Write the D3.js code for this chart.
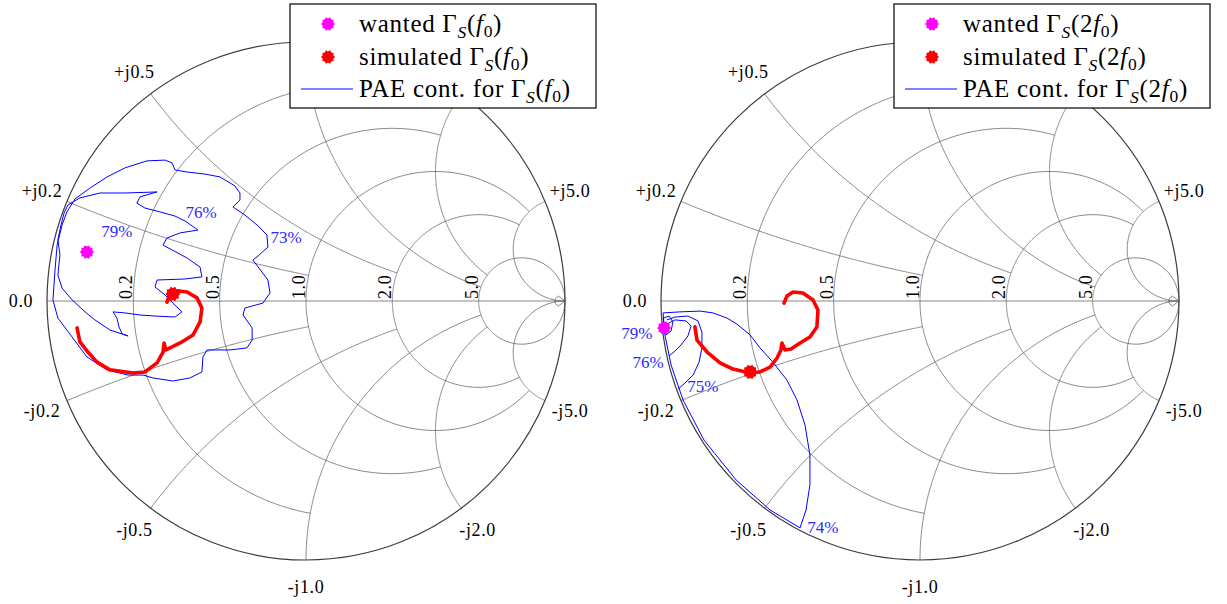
<!DOCTYPE html>
<html>
<head>
<meta charset="utf-8"/>
<title>Source reflection coefficient - Smith charts</title>
<script src="https://d3js.org/d3.v7.min.js"></script>
<style>
body{margin:0;background:#fff;}
svg text{font-family:"Liberation Serif","Times New Roman",serif;fill:#000;}
</style>
</head>
<body>
<div id="well"></div>
<script>
// grid ticks (normalised resistance r and reactance x)
var rTicks = [0.2, 0.5, 1, 2, 5];
var rTickLabels = ["0.2", "0.5", "1.0", "2.0", "5.0"];
var xTicks = [-5, -2, -1, -0.5, -0.2, 0.2, 0.5, 1, 2, 5];
// +j1.0 and +j2.0 sit under the legend box, so they are left empty
var xTickLabels = ["-j5.0", "-j2.0", "-j1.0", "-j0.5", "-j0.2", "+j0.2", "+j0.5", "", "", "+j5.0"];
// where each grid line stops (reactance for r circles, resistance for x arcs)
var rGridStop = [1, 2, 5, 5, Infinity];
var xGridStop = [1, 2, 5, 5, Infinity];

// ---- left chart: Gamma_S(f0), values as [Re, Im] of Gamma
var f0Wanted = [[-0.846, 0.189]];
var f0Simulated = [[-0.514, 0.027]];
var f0Trace = [[-0.884,-0.104],[-0.873,-0.158],[-0.842,-0.197],[-0.807,-0.236],[-0.757,-0.266],[-0.668,-0.278],
  [-0.622,-0.274],[-0.575,-0.239],[-0.552,-0.197],[-0.548,-0.162],[-0.541,-0.189],[-0.525,-0.181],[-0.486,-0.162],
  [-0.436,-0.131],[-0.409,-0.081],[-0.402,-0.027],[-0.421,0.012],[-0.459,0.035],[-0.498,0.039],[-0.525,0.027],[-0.537,-0.004]];
var f0Pae73 = [[-0.923,0.344],[-0.892,0.394],[-0.834,0.436],[-0.768,0.479],[-0.699,0.514],[-0.614,0.541],[-0.544,0.544],
  [-0.517,0.533],[-0.506,0.506],[-0.459,0.498],[-0.390,0.490],[-0.332,0.479],[-0.274,0.444],[-0.255,0.417],[-0.255,0.390],
  [-0.282,0.363],[-0.236,0.332],[-0.185,0.290],[-0.151,0.255],[-0.147,0.208],[-0.185,0.174],[-0.205,0.158],[-0.147,0.081],
  [-0.139,0.031],[-0.166,-0.008],[-0.236,-0.027],[-0.243,-0.054],[-0.208,-0.104],[-0.208,-0.151],[-0.228,-0.181],
  [-0.293,-0.189],[-0.382,-0.189],[-0.398,-0.216],[-0.402,-0.274],[-0.448,-0.297],[-0.514,-0.309],[-0.591,-0.297],
  [-0.629,-0.286],[-0.687,-0.286],[-0.768,-0.266],[-0.846,-0.216],[-0.903,-0.139],[-0.958,-0.066],[-0.977,0.004],
  [-0.969,0.120],[-0.961,0.216],[-0.942,0.293],[-0.923,0.344]];
var f0Pae76 = [[-0.919,0.371],[-0.873,0.398],[-0.795,0.417],[-0.699,0.417],[-0.575,0.421],[-0.641,0.402],[-0.653,0.378],
  [-0.622,0.359],[-0.564,0.344],[-0.506,0.328],[-0.467,0.309],[-0.417,0.274],[-0.486,0.263],[-0.537,0.243],[-0.552,0.216],
  [-0.517,0.197],[-0.459,0.166],[-0.409,0.131],[-0.402,0.093],[-0.467,0.085],[-0.575,0.081],[-0.583,0.054],[-0.544,0.023],
  [-0.514,-0.008],[-0.479,-0.042],[-0.506,-0.062],[-0.583,-0.058],[-0.641,-0.054],[-0.699,-0.046],[-0.745,-0.042],
  [-0.730,-0.066],[-0.722,-0.100],[-0.710,-0.127],[-0.687,-0.135],[-0.757,-0.112],[-0.815,-0.073],[-0.853,-0.042],
  [-0.903,0.004],[-0.942,0.050],[-0.958,0.100],[-0.950,0.178],[-0.958,0.236],[-0.946,0.293],[-0.934,0.340],[-0.919,0.371]];
var f0Labels = ["79%", "76%", "73%"];
var f0LabelPos = [[-0.730,0.270],[-0.405,0.340],[-0.077,0.247]];

// ---- right chart: Gamma_S(2f0)
var f2Wanted = [[-0.988,-0.104]];
var f2Simulated = [[-0.656,-0.274]];
var f2Trace = [[-0.869,-0.100],[-0.861,-0.151],[-0.822,-0.197],[-0.772,-0.239],[-0.722,-0.263],[-0.656,-0.278],
  [-0.618,-0.274],[-0.579,-0.255],[-0.552,-0.220],[-0.537,-0.189],[-0.533,-0.162],[-0.521,-0.189],[-0.498,-0.185],
  [-0.463,-0.162],[-0.425,-0.139],[-0.398,-0.100],[-0.394,-0.035],[-0.413,0.004],[-0.452,0.031],[-0.490,0.035],
  [-0.514,0.019],[-0.525,-0.008]];
var f2Pae74 = [[-0.992,-0.046],[-0.927,-0.042],[-0.849,-0.039],[-0.799,-0.046],[-0.745,-0.066],[-0.707,-0.089],
  [-0.656,-0.131],[-0.618,-0.181],[-0.568,-0.236],[-0.514,-0.305],[-0.475,-0.382],[-0.444,-0.479],[-0.425,-0.595],
  [-0.425,-0.710],[-0.440,-0.807],[-0.463,-0.876],[-0.579,-0.807],[-0.710,-0.691],[-0.834,-0.537],[-0.915,-0.382],
  [-0.961,-0.247],[-0.985,-0.131],[-0.992,-0.046]];
var f2Pae75 = [[-0.977,-0.073],[-0.946,-0.062],[-0.896,-0.058],[-0.857,-0.077],[-0.842,-0.120],[-0.842,-0.181],
  [-0.853,-0.236],[-0.876,-0.286],[-0.911,-0.320],[-0.934,-0.340]];
var f2Pae76 = [[-0.985,-0.093],[-0.946,-0.073],[-0.903,-0.077],[-0.884,-0.097],[-0.896,-0.135],[-0.923,-0.170],
  [-0.950,-0.197],[-0.969,-0.212]];
var f2Pae79 = [[-0.992,-0.066],[-0.969,-0.058],[-0.954,-0.081],[-0.961,-0.116],[-0.981,-0.131],[-0.992,-0.066]];
var f2Labels = ["79%", "76%", "75%", "74%"];
var f2LabelPos = [[-1.093,-0.124],[-1.050,-0.239],[-0.838,-0.332],[-0.375,-0.873]];

var width = 1227, height = 604;
var svg = d3.select('#well').append('svg')
	.attr('width', width)
	.attr('height', height);

// z = r + jx  ->  Gamma
function gamma(r, x){
	if (!isFinite(r)) return [1, 0];
	var den = (r + 1) * (r + 1) + x * x;
	return [(r * r + x * x - 1) / den, 2 * x / den];
}

function starPath(ro){
	var pts = d3.range(20).map(function(i){
		var a = i / 20 * 2 * Math.PI;
		var rr = i % 2 ? ro * 0.8 : ro;
		return [rr * Math.cos(a), rr * Math.sin(a)];
	});
	return 'M' + pts.join('L') + 'Z';
}

function smith(cx, cy, R, opt){
	var x = d3.scaleLinear().domain([-1, 1]).range([cx - R, cx + R]);
	var y = d3.scaleLinear().domain([-1, 1]).range([cy + R, cy - R]);
	var line = d3.line().x(function(d){ return x(d[0]); }).y(function(d){ return y(d[1]); });
	var g = svg.append('g');
	var grid = g.append('g').attr('fill', 'none').attr('stroke', '#6a6a6a').attr('stroke-width', 0.8);

	// resistance circles
	rTicks.forEach(function(r, i){
		var tmax = Math.atan(rGridStop[i]);
		var pts = d3.range(0, 301).map(function(k){
			var t = -tmax + 2 * tmax * k / 300;
			return gamma(r, Math.tan(t));
		});
		grid.append('path').attr('d', line(pts));
	});
	// reactance arcs
	xTicks.forEach(function(xv){
		var i = rTicks.indexOf(Math.abs(xv));
		var smax = Math.atan(xGridStop[i]);
		var pts = d3.range(0, 201).map(function(k){
			var s = smax * k / 200;
			return k == 200 && !isFinite(xGridStop[i]) ? [1, 0] : gamma(Math.tan(s), xv);
		});
		grid.append('path').attr('d', line(pts));
	});
	// tiny circle at the open-circuit point
	var tiny = d3.range(0, 121).map(function(k){
		var t = -Math.PI / 2 + Math.PI * k / 120;
		return gamma(50, Math.tan(t) * 0.999);
	});
	grid.append('path').attr('d', line(tiny));
	// real axis
	grid.append('path').attr('d', line([[-1, 0], [1, 0]]));
	// outer circle
	g.append('circle')
		.attr('cx', x(0)).attr('cy', y(0)).attr('r', x(1) - x(0))
		.attr('fill', 'none').attr('stroke', '#3c3c3c').attr('stroke-width', 1.2);

	// reactance labels outside the unit circle
	xTicks.forEach(function(xv, i){
		if (!xTickLabels[i]) return;
		var p = gamma(0, xv);
		var d = 27;
		g.append('text')
			.attr('x', x(p[0]) + p[0] * d)
			.attr('y', y(p[1]) - p[1] * d)
			.attr('text-anchor', 'middle')
			.attr('dominant-baseline', 'central')
			.attr('font-size', 18)
			.attr('letter-spacing', 0.6)
			.text(xTickLabels[i]);
	});
	g.append('text')
		.attr('x', x(-1) - 26).attr('y', y(0))
		.attr('text-anchor', 'middle').attr('dominant-baseline', 'central')
		.attr('font-size', 18).attr('letter-spacing', 0.6)
		.text('0.0');
	// resistance labels, rotated, along the real axis
	rTicks.forEach(function(r, i){
		var p = gamma(r, 0);
		g.append('text')
			.attr('transform', 'translate(' + (x(p[0]) - 1) + ',' + (y(0) - 2) + ') rotate(-90)')
			.attr('font-size', 18).attr('letter-spacing', 0.6)
			.text(rTickLabels[i]);
	});

	// PAE contours
	var cont = g.append('g').attr('fill', 'none').attr('stroke', '#0000ff').attr('stroke-width', 1);
	opt.contours.forEach(function(c){
		cont.append('path').attr('d', line(c)).attr('stroke-linejoin', 'round');
	});
	opt.labels.forEach(function(t, i){
		g.append('text')
			.attr('x', x(opt.labelPos[i][0]))
			.attr('y', y(opt.labelPos[i][1]))
			.attr('text-anchor', 'middle')
			.attr('dominant-baseline', 'central')
			.attr('font-size', 17)
			.style('fill', '#2a2aff')
			.text(t);
	});

	// simulated trace
	g.append('path')
		.attr('d', line(opt.trace))
		.attr('fill', 'none').attr('stroke', '#ff0000').attr('stroke-width', 3.6)
		.attr('stroke-linejoin', 'round').attr('stroke-linecap', 'round');

	g.selectAll('.wanted').data(opt.wanted).enter().append('path')
		.attr('transform', function(d){ return 'translate(' + x(d[0]) + ',' + y(d[1]) + ')'; })
		.attr('d', starPath(7)).attr('fill', '#ff00ff');
	g.selectAll('.sim').data(opt.simulated).enter().append('path')
		.attr('transform', function(d){ return 'translate(' + x(d[0]) + ',' + y(d[1]) + ')'; })
		.attr('d', starPath(7.5)).attr('fill', '#ff0000');
}

function legendText(sel, prefix, arg){
	sel.append('tspan').text(prefix + '\u0393');
	sel.append('tspan').attr('font-style', 'italic').attr('font-size', '70%').attr('dy', 6).text('S');
	sel.append('tspan').attr('dy', -6).text('(' + arg);
	sel.append('tspan').attr('font-style', 'italic').text('f');
	sel.append('tspan').attr('font-size', '70%').attr('dy', 5).text('0');
	sel.append('tspan').attr('dy', -5).text(')');
}

function legend(lx, ly, w, arg){
	var g = svg.append('g').attr('transform', 'translate(' + lx + ',' + ly + ')');
	g.append('rect').attr('width', w).attr('height', 104)
		.attr('fill', '#fff').attr('stroke', '#000').attr('stroke-width', 1.2);
	var rows = [20, 53, 85];
	g.append('path').attr('transform', 'translate(38,' + rows[0] + ')').attr('d', starPath(7)).attr('fill', '#ff00ff');
	g.append('path').attr('transform', 'translate(38,' + rows[1] + ')').attr('d', starPath(7)).attr('fill', '#ff0000');
	g.append('line').attr('x1', 11).attr('x2', 63).attr('y1', rows[2]).attr('y2', rows[2])
		.attr('stroke', '#0000ff').attr('stroke-width', 1);
	var labels = ['wanted ', 'simulated ', 'PAE cont. for '];
	labels.forEach(function(t, i){
		var txt = g.append('text').attr('x', 69).attr('y', rows[i] + 8)
			.attr('font-size', 25).attr('letter-spacing', 0.7);
		legendText(txt, t, arg);
	});
}

smith(306, 301, 259, {
	contours: [f0Pae73, f0Pae76],
	labels: f0Labels, labelPos: f0LabelPos,
	trace: f0Trace, wanted: f0Wanted, simulated: f0Simulated
});
smith(920, 301, 259, {
	contours: [f2Pae74, f2Pae75, f2Pae76, f2Pae79],
	labels: f2Labels, labelPos: f2LabelPos,
	trace: f2Trace, wanted: f2Wanted, simulated: f2Simulated
});
legend(290, 4, 306, '');
legend(894, 4, 316, '2');
</script>
</body>
</html>
